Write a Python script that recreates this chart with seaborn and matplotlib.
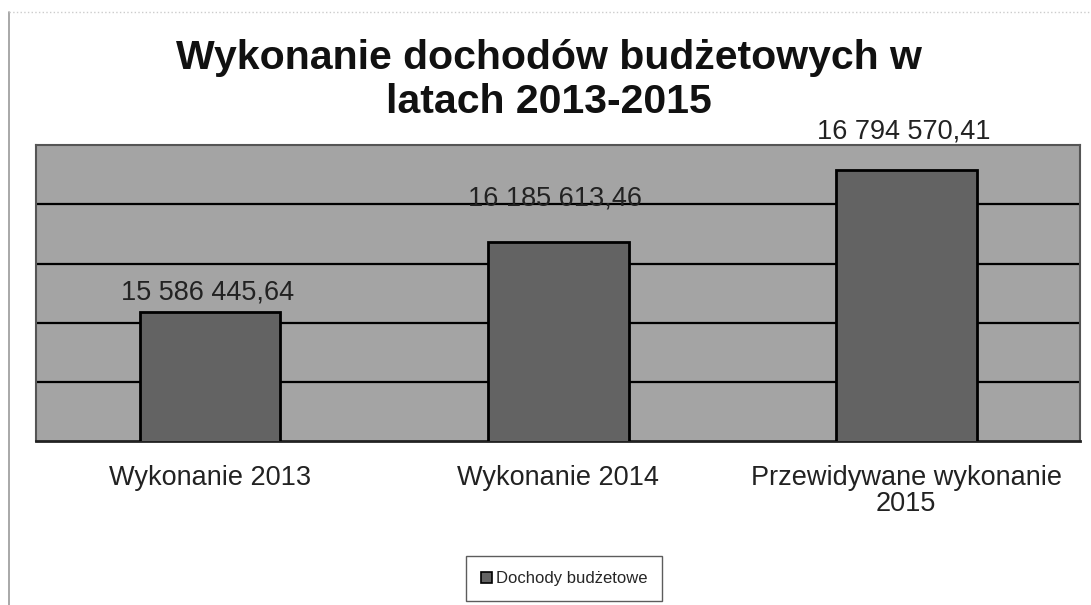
import matplotlib
matplotlib.use("Agg")
import matplotlib.pyplot as plt
from matplotlib.lines import Line2D
from matplotlib.patches import Patch
import seaborn as sns
import pandas as pd

categories = ["Wykonanie 2013", "Wykonanie 2014", "Przewidywane wykonanie\n2015"]
values = [15586445.64, 16185613.46, 16794570.41]
value_labels = ["15 586 445,64", "16 185 613,46", "16 794 570,41"]
series_name = "Dochody budżetowe"
title = "Wykonanie dochodów budżetowych w\nlatach 2013-2015"

df = pd.DataFrame({"kategoria": categories, "wartosc": values})

sns.set_theme(style="white")
plt.rcParams["font.family"] = ["Liberation Sans", "DejaVu Sans"]

bar_color = "#636363"
bg_color = "#a4a4a4"

fig = plt.figure(figsize=(10.91, 6.05), dpi=100)
ax = fig.add_axes([0.033, 0.271, 0.957, 0.489])
ax.set_facecolor(bg_color)

sns.barplot(data=df, x="kategoria", y="wartosc", color=bar_color, width=0.405,
            edgecolor="black", linewidth=2, saturation=1, ax=ax, zorder=3)

ax.set_ylim(14500000, 17000000)
ax.set_yticks([15000000, 15500000, 16000000, 16500000])
ax.yaxis.grid(True, color="black", linewidth=1.6, zorder=1)
ax.set_axisbelow(True)
ax.set_yticklabels([])
ax.tick_params(axis="y", length=0)
ax.set_xlim(-0.5, 2.5)
ax.set_xlabel("")
ax.set_ylabel("")

ax.set_xticks([-0.5, 0.5, 1.5, 2.5], minor=True)
ax.tick_params(axis="x", which="minor", length=6, width=1.2, color="#333333", direction="out")
ax.tick_params(axis="x", which="major", length=0, pad=17, labelsize=19.5, labelcolor="#222222")
for t in ax.get_xticklabels():
    t.set_linespacing(1.0)

for side in ["top", "left", "right"]:
    ax.spines[side].set_color("#555555")
    ax.spines[side].set_linewidth(1.5)
ax.spines["bottom"].set_color("#222222")
ax.spines["bottom"].set_linewidth(2)

# value labels above bars (offsets in points, as in the original layout)
offsets = [5, 22, 18]
for i, (v, lab) in enumerate(zip(values, value_labels)):
    ax.annotate(lab, xy=(i, v), xytext=(-2, offsets[i]), textcoords="offset points",
                ha="center", va="bottom", fontsize=19.5, color="#222222",
                annotation_clip=False)

fig.text(0.503, 0.935, title, ha="center", va="top", fontsize=29.5,
         fontweight="bold", color="#111111", linespacing=1.18)

handle = Patch(facecolor=bar_color, edgecolor="black", linewidth=1.2)
fig.legend([handle], [series_name], loc="center", bbox_to_anchor=(0.517, 0.043),
           frameon=True, fancybox=False, edgecolor="#333333", fontsize=12,
           handlelength=0.7, handleheight=0.7, handletextpad=0.2,
           borderpad=0.9, borderaxespad=0)

# outer chart frame
fig.add_artist(Line2D([0.008, 0.008], [0.0, 0.98], color="#999999", linewidth=1.2))
fig.add_artist(Line2D([0.008, 1.0], [0.98, 0.98], color="#cccccc", linewidth=1, linestyle=":"))

fig.savefig("out.png", dpi=100, facecolor="white")
